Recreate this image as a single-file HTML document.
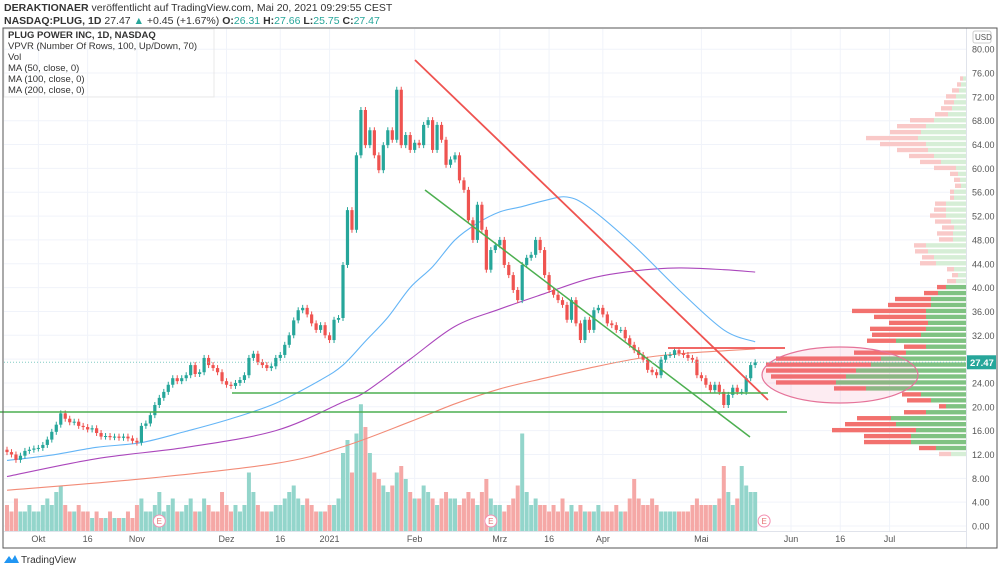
<!DOCTYPE html>
<html><head><meta charset="utf-8"><style>
html,body{margin:0;padding:0;background:#fff;width:1000px;height:569px;overflow:hidden;font-family:"Liberation Sans",sans-serif}
svg text{font-family:"Liberation Sans",sans-serif}
</style></head><body>
<svg id="c" width="1000" height="569" viewBox="0 0 1000 569" xmlns="http://www.w3.org/2000/svg">
<g id="grid"></g>
<g id="vpvr"></g>
<g id="vol"></g>
<g id="ma"></g>
<g id="candles"></g>
<g id="draw">
  <line x1="415" y1="60" x2="768" y2="400" stroke="#ef5350" stroke-width="1.8"/>
  <line x1="425" y1="190" x2="750" y2="437" stroke="#4caf50" stroke-width="1.5"/>
  <line x1="232" y1="393" x2="768" y2="393" stroke="#4caf50" stroke-width="1.5"/>
  <line x1="0" y1="412" x2="787" y2="412" stroke="#4caf50" stroke-width="1.5"/>
  <line x1="668" y1="348" x2="785" y2="348" stroke="#ef5350" stroke-width="1.8"/>
  <ellipse cx="840" cy="375" rx="78" ry="28" fill="rgba(240,98,146,0.12)" stroke="#e57399" stroke-width="1.2"/>
</g>
<g id="axes"></g>
<g>
  <text x="4" y="11" font-size="10.5" fill="#333"><tspan font-weight="bold">DERAKTIONAER</tspan> veröffentlicht auf TradingView.com, Mai 20, 2021 09:29:55 CEST</text>
  <text x="4" y="24" font-size="10.5" fill="#333"><tspan font-weight="bold">NASDAQ:PLUG, 1D</tspan> 27.47 <tspan fill="#26a69a">▲</tspan> +0.45 (+1.67%) <tspan font-weight="bold">O:</tspan><tspan fill="#26a69a">26.31</tspan> <tspan font-weight="bold">H:</tspan><tspan fill="#26a69a">27.66</tspan> <tspan font-weight="bold">L:</tspan><tspan fill="#26a69a">25.75</tspan> <tspan font-weight="bold">C:</tspan><tspan fill="#26a69a">27.47</tspan></text>
</g>
<rect x="3" y="28" width="994" height="520" fill="none" stroke="#555" stroke-width="1"/>
<rect x="4" y="29" width="210" height="68" fill="none" stroke="#e8e8e8" stroke-width="1"/>
<g font-size="9.5" fill="#333">
  <text x="8" y="38" font-weight="bold">PLUG POWER INC, 1D, NASDAQ</text>
  <text x="8" y="49">VPVR (Number Of Rows, 100, Up/Down, 70)</text>
  <text x="8" y="60">Vol</text>
  <text x="8" y="71">MA (50, close, 0)</text>
  <text x="8" y="82">MA (100, close, 0)</text>
  <text x="8" y="93">MA (200, close, 0)</text>
</g>
<g>
  <path d="M4 563 L9 556 L12 560 L15 555 L19 563 Z" fill="#2196f3"/>
  <text x="21" y="563" font-size="10" fill="#333">TradingView</text>
</g>
</svg>
<script>
const closes=[12.4,12.0,11.1,11.8,12.6,12.8,13.0,13.1,13.6,14.5,
15.8,17.0,18.9,18.0,17.4,17.5,16.8,16.6,16.2,16.4,
15.6,15.0,15.1,14.9,15.0,14.8,15.0,14.7,14.3,14.0,
16.8,17.2,18.6,20.3,21.5,22.5,23.7,24.8,24.3,24.8,
25.3,27.0,25.5,25.8,28.2,27.0,26.5,25.8,24.3,23.7,
23.5,24.0,24.5,25.3,28.2,28.9,27.5,27.0,26.5,26.8,
28.2,28.7,30.4,32.0,34.5,36.2,36.6,35.5,34.0,32.9,
33.7,32.0,31.2,34.6,34.9,43.8,53.0,49.7,62.2,69.8,
63.9,66.4,62.2,59.7,63.9,66.4,64.8,73.2,63.9,65.6,
63.1,64.3,63.9,67.3,68.1,63.1,67.3,64.8,60.6,61.5,
62.2,58.0,56.4,51.3,48.0,53.9,49.7,43.0,46.3,47.1,
48.0,43.8,42.1,39.6,37.9,43.8,45.0,45.5,48.0,46.3,
42.1,39.6,38.8,37.9,37.1,34.6,37.9,34.0,31.2,34.6,
32.9,36.2,36.6,35.5,34.0,33.7,32.9,32.9,31.5,30.4,
29.5,28.7,27.9,26.2,25.8,25.3,27.9,28.7,28.7,29.5,
29.0,28.7,28.2,27.9,25.3,24.8,23.7,22.8,23.7,22.5,
20.3,22.0,23.2,22.5,22.5,24.8,27.0,27.47];
const volumes=[4,3,5,3,3,4,3,3,4,5,4,6,7,4,3,3,4,3,3,2,3,2,2,3,2,2,2,3,2,4,
5,3,3,4,6,3,4,5,3,3,4,5,3,3,5,4,3,3,6,4,3,4,3,4,9,6,4,3,3,3,
4,4,5,6,7,5,4,5,4,3,3,3,4,4,5,12,14,9,15,19.5,16,12,9,8,7,6,7,9,10,8,
6,5,5,7,6,5,4,5,6,5,5,4,5,6,5,4,6,8,5,4,4,3,4,5,7,15,6,4,5,4,
4,3,4,3,5,3,4,3,4,3,3,3,4,3,3,3,4,3,3,5,8,5,4,4,5,4,3,3,3,3,
3,3,3,4,5,4,4,4,4,5,10,6,4,5,10,7,6,6];
const ma50Idx=[0,10,20,30,40,50,60,70,75,80,85,90,95,100,105,110,115,120,125,130,140,150,160,167];
const ma50=[11.0,11.9,13.2,14.0,15.9,18.0,20.6,24.5,27.0,31.0,35.0,40.0,43.5,48.0,50.8,52.7,53.6,54.6,55.2,53.4,47.0,39.6,32.9,30.9];
const ma100Idx=[0,20,40,60,75,80,90,100,110,120,130,140,150,160,167];
const ma100=[8.3,11.3,13.2,16.0,20.8,22.5,28.0,33.5,36.4,39.0,41.5,42.8,43.3,43.0,42.6];
const ma200Idx=[0,30,60,75,90,100,110,120,130,140,150,160,167];
const ma200=[6.0,7.9,10.5,13.3,17.5,20.5,23.0,24.8,26.5,28.0,28.9,29.4,29.7];
const vpPrices=[12,13,14,15,16,17,18,19,20,21,22,23,24,25,26,27,28,29,30,31,32,33,34,35,36,37,38,39,40,41,42,43,44,45,46,47,48,49,50,51,52,53,54,55,56,57,58,59,60,61,62,63,64,65,66,67,68,69,70,71,72,73,74,75];
const vpTotal=[27,47,102,102,134,121,109,62,27,59,64,132,190,195,200,200,190,112,62,99,94,96,77,92,114,78,71,42,29,19,14,19,46,44,51,52,27,29,24,31,36,32,31,16,16,11,12,16,32,46,57,69,86,100,76,69,56,31,25,22,20,14,9,6];
const vpUp=[15,30,55,55,50,70,75,40,20,35,45,100,130,120,110,95,85,60,40,70,45,40,38,40,40,35,35,28,20,10,8,12,30,32,38,40,13,13,12,15,20,20,20,12,12,5,6,8,10,25,32,38,40,48,45,40,32,18,14,12,10,7,5,3];
const priceTicks=[0,4,8,12,16,20,24,28,32,36,40,44,48,52,56,60,64,68,72,76,80];
const dateTickIdx=[7,18,29,49,61,72,91,110,121,133,155,175,186,197];
const dateTickLabels=["Okt","16","Nov","Dez","16","2021","Feb","Mrz","16","Apr","Mai","Jun","16","Jul"];
const earningsIdx=[34,108,169];

const NS="http://www.w3.org/2000/svg";
const yP=p=>526-p*5.96;
const xI=i=>7+i*4.48;
const yV=v=>531-v*6.5;
function mk(tag,attrs,parent){const e=document.createElementNS(NS,tag);for(const k in attrs)e.setAttribute(k,attrs[k]);parent.appendChild(e);return e;}
const G=id=>document.getElementById(id);

priceTicks.forEach(p=>{const l=mk('line',{x1:4,x2:966,y1:yP(p),y2:yP(p),stroke:'#f0f3fa','stroke-width':1},G('grid'));

});
dateTickIdx.forEach(i=>{const l=mk('line',{x1:xI(i),x2:xI(i),y1:29,y2:531,stroke:'#f0f3fa','stroke-width':1},G('grid'));

});

vpPrices.forEach((p,k)=>{
  const faded=p>40.5||p<12.5;
  const y=yP(p+0.45), h=5.96*0.9-1;
  const r=mk('rect',{x:966-vpTotal[k],y:y,width:vpTotal[k]-vpUp[k],height:h,fill:faded?'#f9c9c8':'#f2716e'},G('vpvr'));
  
  
  const g=mk('rect',{x:966-vpUp[k],y:y,width:vpUp[k],height:h,fill:faded?'#d6eed6':'#7fc282'},G('vpvr'));
  
  
});

closes.forEach((c,i)=>{
  const o=i>0?closes[i-1]:c+0.4;
  const up=c>=o;
  const x=xI(i);
  const vb=mk('rect',{x:x-2,y:yV(volumes[i]),width:4,height:531-yV(volumes[i]),fill:up?'#93d5cb':'#f5a8a6'},G('vol'));
  
  
  const col=up?'#26a69a':'#ef5350';
  const hi=Math.max(o,c)+0.5, lo=Math.min(o,c)-0.5;
  const w=mk('line',{x1:x,x2:x,y1:yP(hi),y2:yP(lo),stroke:col,'stroke-width':1},G('candles'));
  
  
  const b=mk('rect',{x:x-1.6,y:yP(Math.max(o,c)),width:3.2,height:Math.max(1,Math.abs(yP(o)-yP(c))),fill:col},G('candles'));
  
  
});

function maLine(idx,vals,color,name){
  const P=idx.map((i,k)=>[xI(i),yP(vals[k])]);
  let d='M'+P[0][0]+','+P[0][1];
  for(let k=0;k<P.length-1;k++){
    const p0=P[Math.max(0,k-1)],p1=P[k],p2=P[k+1],p3=P[Math.min(P.length-1,k+2)];
    const c1=[p1[0]+(p2[0]-p0[0])/6,p1[1]+(p2[1]-p0[1])/6];
    const c2=[p2[0]-(p3[0]-p1[0])/6,p2[1]-(p3[1]-p1[1])/6];
    d+=' C'+c1.join(',')+' '+c2.join(',')+' '+p2.join(',');
  }
  const l=mk('path',{d:d,fill:'none',stroke:color,'stroke-width':1.1},G('ma'));
  
  
}
maLine(ma200Idx,ma200,'#f28b77','ma200-line');
maLine(ma100Idx,ma100,'#ab47bc','ma100-line');
maLine(ma50Idx,ma50,'#64b5f6','ma50-line');

const last=closes[closes.length-1];
const cl=mk('line',{x1:4,x2:966,y1:yP(last),y2:yP(last),stroke:'#80cbc4','stroke-width':1,'stroke-dasharray':'1,2'},G('axes'));



const A=G('axes');
const sep=mk('line',{x1:966.5,x2:966.5,y1:28,y2:548,stroke:'#e0e3eb','stroke-width':1},A);


const tb=mk('line',{x1:4,x2:966,y1:531.5,y2:531.5,stroke:'#e0e3eb','stroke-width':1},A);


priceTicks.forEach(p=>{const t=mk('text',{x:972,y:yP(p)+3.5,'font-size':9,fill:'#555'},A);t.textContent=p.toFixed(2);

});
const usd=mk('rect',{x:973,y:31,width:18,height:12,rx:2,fill:'#fff',stroke:'#ccc'},A);


const ut=mk('text',{x:975,y:40,'font-size':8,fill:'#555'},A);ut.textContent='USD';


const pb=mk('rect',{x:967,y:yP(last)-7,width:29,height:14,fill:'#26a69a'},A);


const pt=mk('text',{x:970,y:yP(last)+3.5,'font-size':9.5,fill:'#fff','font-weight':'bold'},A);pt.textContent=last.toFixed(2);


dateTickIdx.forEach((i,k)=>{const t=mk('text',{x:xI(i),y:542,'font-size':9,fill:'#555','text-anchor':'middle'},A);t.textContent=dateTickLabels[k];

});
earningsIdx.forEach(i=>{const c=mk('circle',{cx:xI(i),cy:521,r:6,fill:'#fff',stroke:'#f48fb1','stroke-width':1},A);


const t=mk('text',{x:xI(i),y:524,'font-size':8,fill:'#e57373','text-anchor':'middle'},A);t.textContent='E';

});
</script>
</body></html>
